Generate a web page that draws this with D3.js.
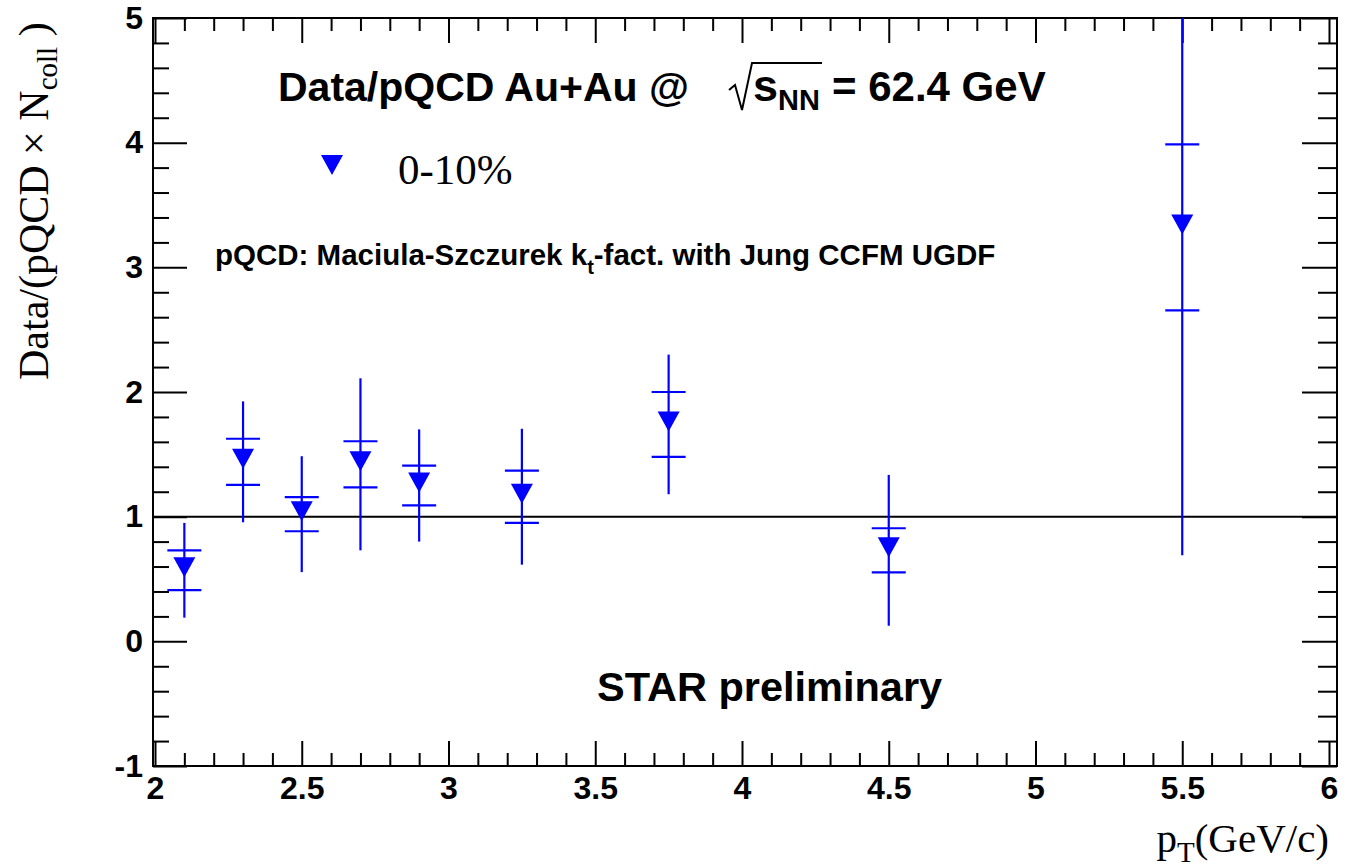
<!DOCTYPE html>
<head>
    <meta charset="utf-8">
    <title>Data/pQCD Au+Au</title>
    <script src="https://d3js.org/d3.v7.min.js"></script>
    <style>
        body { margin: 0; background: #fff; }
        svg { display: block; }
        .tick text { font-family: "Liberation Sans", Arial, sans-serif; font-weight: bold; font-size: 32px; fill: #000; }
        .tick line { stroke: #000; stroke-width: 2; }
        .serif { font-family: "Liberation Serif", "Times New Roman", serif; }
        .sans { font-family: "Liberation Sans", Arial, sans-serif; font-weight: bold; }
    </style>
</head>

<body>
    <div id="container"></div>
    <script>
        //------------------------DATA------------------------//
        var ptValues = [2.1, 2.3, 2.5, 2.7, 2.9, 3.25, 3.75, 4.5, 5.5];
        var ratioValues = [0.57, 1.44, 1.02, 1.42, 1.25, 1.16, 1.74, 0.73, 3.32];
        var statErrors = [0.38, 0.485, 0.465, 0.69, 0.45, 0.545, 0.56, 0.605, 2.63];
        var sysErrors = [0.16, 0.185, 0.137, 0.185, 0.16, 0.21, 0.26, 0.177, 0.666];
        var xTickValues = [2, 2.5, 3, 3.5, 4, 4.5, 5, 5.5, 6];
        var yTickValues = [-1, 0, 1, 2, 3, 4, 5];

        //------------------------LAYOUT------------------------//
        var W = 1351, H = 868;
        var frame = { left: 153, right: 1337, top: 18, bottom: 766 };

        var x = d3.scaleLinear().domain([2, 6]).range([155, 1329]);
        var y = d3.scaleLinear().domain([-1, 5]).range([frame.bottom, frame.top]);

        var xMinor = d3.range(2, 6.001, 0.1).map(function (d) { return +d.toFixed(1); })
            .filter(function (d) { return xTickValues.indexOf(d) < 0; });
        var yMinor = d3.range(-1, 5.001, 0.2).map(function (d) { return +d.toFixed(1); })
            .filter(function (d) { return yTickValues.indexOf(d) < 0; });

        var svg = d3.select("#container").append("svg")
            .attr("width", W).attr("height", H);

        svg.append("defs").append("clipPath").attr("id", "plotclip")
            .append("rect")
            .attr("x", frame.left).attr("y", frame.top)
            .attr("width", frame.right - frame.left)
            .attr("height", frame.bottom - frame.top);

        //------------------------AXES------------------------//
        var fmt = function (d) { return String(d); };
        var noDomain = function (g) { g.select(".domain").remove(); };

        // bottom
        svg.append("g").attr("transform", "translate(0," + frame.bottom + ")")
            .call(d3.axisBottom(x).tickValues(xTickValues).tickSize(-25).tickPadding(10).tickFormat(fmt))
            .call(noDomain);
        svg.append("g").attr("transform", "translate(0," + frame.bottom + ")")
            .call(d3.axisBottom(x).tickValues(xMinor).tickSize(-13).tickFormat(""))
            .call(noDomain);
        // top
        svg.append("g").attr("transform", "translate(0," + frame.top + ")")
            .call(d3.axisTop(x).tickValues(xTickValues).tickSize(-25).tickFormat(""))
            .call(noDomain);
        svg.append("g").attr("transform", "translate(0," + frame.top + ")")
            .call(d3.axisTop(x).tickValues(xMinor).tickSize(-13).tickFormat(""))
            .call(noDomain);
        // left
        svg.append("g").attr("transform", "translate(" + frame.left + ",0)")
            .call(d3.axisLeft(y).tickValues(yTickValues).tickSize(-34).tickPadding(10).tickFormat(fmt))
            .call(noDomain);
        svg.append("g").attr("transform", "translate(" + frame.left + ",0)")
            .call(d3.axisLeft(y).tickValues(yMinor).tickSize(-16).tickFormat(""))
            .call(noDomain);
        // right
        svg.append("g").attr("transform", "translate(" + frame.right + ",0)")
            .call(d3.axisRight(y).tickValues(yTickValues).tickSize(-35).tickFormat(""))
            .call(noDomain);
        svg.append("g").attr("transform", "translate(" + frame.right + ",0)")
            .call(d3.axisRight(y).tickValues(yMinor).tickSize(-19).tickFormat(""))
            .call(noDomain);

        // frame
        svg.append("rect")
            .attr("x", frame.left).attr("y", frame.top)
            .attr("width", frame.right - frame.left)
            .attr("height", frame.bottom - frame.top)
            .attr("fill", "none").attr("stroke", "#000").attr("stroke-width", 2);

        // reference line at 1
        svg.append("line")
            .attr("x1", frame.left).attr("x2", frame.right)
            .attr("y1", y(1)).attr("y2", y(1))
            .attr("stroke", "#000").attr("stroke-width", 2);

        //------------------------POINTS------------------------//
        var pts = ptValues.map(function (p, i) {
            return { x: p, v: ratioValues[i], stat: statErrors[i], sys: sysErrors[i] };
        });
        var plot = svg.append("g").attr("clip-path", "url(#plotclip)");
        var blue = "#0000ff";

        plot.selectAll(".stat").data(pts).enter().append("line")
            .attr("x1", function (d) { return x(d.x); })
            .attr("x2", function (d) { return x(d.x); })
            .attr("y1", function (d) { return y(d.v + d.stat); })
            .attr("y2", function (d) { return y(d.v - d.stat); })
            .attr("stroke", blue).attr("stroke-width", 2.2);

        [1, -1].forEach(function (s) {
            plot.selectAll(".sys" + s).data(pts).enter().append("line")
                .attr("x1", function (d) { return x(d.x) - 17; })
                .attr("x2", function (d) { return x(d.x) + 17; })
                .attr("y1", function (d) { return y(d.v + s * d.sys); })
                .attr("y2", function (d) { return y(d.v + s * d.sys); })
                .attr("stroke", blue).attr("stroke-width", 2.2);
        });

        var tri = "M-11,-13L11,-13L0,7Z";
        plot.selectAll(".mk").data(pts).enter().append("path")
            .attr("d", tri)
            .attr("transform", function (d) { return "translate(" + x(d.x) + "," + y(d.v) + ")"; })
            .attr("fill", blue);

        //------------------------TEXT------------------------//
        svg.append("text").attr("class", "sans")
            .attr("x", 278).attr("y", 101).attr("font-size", 41)
            .text("Data/pQCD Au+Au @");
        svg.append("path")
            .attr("d", "M729,90L735,85L742,110L752,63L822,63")
            .attr("fill", "none").attr("stroke", "#000").attr("stroke-width", 2);
        var t2 = svg.append("text").attr("class", "sans").attr("x", 753).attr("y", 101).attr("font-size", 45);
        t2.append("tspan").text("s");
        t2.append("tspan").attr("font-size", 29).attr("dy", 9).text("NN");
        svg.append("text").attr("class", "sans").attr("x", 832).attr("y", 101).attr("font-size", 42)
            .text("= 62.4 GeV");

        // legend
        svg.append("path").attr("d", tri)
            .attr("transform", "translate(332,168)").attr("fill", blue);
        svg.append("text").attr("class", "serif").attr("x", 398).attr("y", 184).attr("font-size", 43)
            .text("0-10%");

        var mod = svg.append("text").attr("class", "sans").attr("x", 215).attr("y", 265).attr("font-size", 29.5);
        mod.append("tspan").text("pQCD: Maciula-Szczurek k");
        mod.append("tspan").attr("font-size", 20).attr("dy", 9).text("t");
        mod.append("tspan").attr("dy", -9).text("-fact. with Jung CCFM UGDF");

        svg.append("text").attr("class", "sans").attr("x", 597).attr("y", 701).attr("font-size", 41.5)
            .text("STAR preliminary");

        // axis titles
        var xt = svg.append("text").attr("class", "serif").attr("x", 1329).attr("y", 852)
            .attr("text-anchor", "end").attr("font-size", 41);
        xt.append("tspan").text("p");
        xt.append("tspan").attr("font-size", 29).attr("dy", 10).text("T");
        xt.append("tspan").attr("dy", -10).text("(GeV/c)");

        var yt = svg.append("text").attr("class", "serif")
            .attr("transform", "translate(48,380) rotate(-90)").attr("font-size", 42);
        yt.append("tspan").text("Data/(pQCD \u00d7 N");
        yt.append("tspan").attr("font-size", 29).attr("dy", 9).text("coll");
        yt.append("tspan").attr("dy", -9).text(" )");
    </script>
</body>
